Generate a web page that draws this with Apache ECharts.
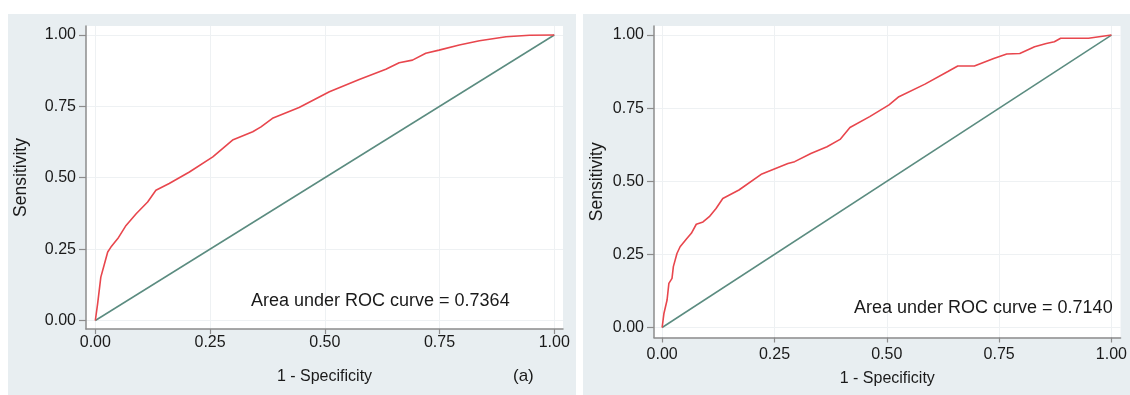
<!DOCTYPE html>
<html>
<head>
<meta charset="utf-8">
<script src="https://cdn.jsdelivr.net/npm/echarts@6/dist/echarts.min.js"></script>
<style>
html,body{margin:0;padding:0;background:#fff;}
#c{width:1130px;height:395px;}
</style>
</head>
<body>
<div id="c"></div>
<script>
var tickValues = [0, 0.25, 0.5, 0.75, 1];
var tickLabels = ['0.00', '0.25', '0.50', '0.75', '1.00'];
var xTitle = '1 - Specificity';
var yTitle = 'Sensitivity';
var aucLeft = 'Area under ROC curve = 0.7364';
var aucRight = 'Area under ROC curve = 0.7140';
var panelTag = '(a)';

var leftFpr = [0, 0.005, 0.012, 0.020, 0.027, 0.034, 0.049, 0.067, 0.089, 0.114, 0.132, 0.161, 0.205, 0.256, 0.299, 0.343, 0.361, 0.386, 0.444, 0.510, 0.575, 0.633, 0.662, 0.691, 0.720, 0.749, 0.793, 0.837, 0.895, 0.946, 1];
var leftTpr = [0, 0.058, 0.152, 0.199, 0.240, 0.257, 0.287, 0.333, 0.374, 0.415, 0.456, 0.480, 0.520, 0.573, 0.632, 0.661, 0.678, 0.708, 0.746, 0.801, 0.844, 0.880, 0.903, 0.912, 0.936, 0.947, 0.965, 0.980, 0.994, 0.999, 1];

var rightFpr = [0, 0.004, 0.011, 0.015, 0.022, 0.025, 0.033, 0.040, 0.055, 0.065, 0.076, 0.091, 0.105, 0.120, 0.135, 0.171, 0.222, 0.280, 0.295, 0.331, 0.367, 0.396, 0.418, 0.462, 0.505, 0.527, 0.585, 0.636, 0.658, 0.695, 0.738, 0.767, 0.796, 0.829, 0.855, 0.873, 0.887, 0.949, 1];
var rightTpr = [0, 0.048, 0.094, 0.151, 0.168, 0.208, 0.253, 0.276, 0.304, 0.322, 0.353, 0.361, 0.379, 0.407, 0.441, 0.470, 0.525, 0.561, 0.567, 0.595, 0.618, 0.643, 0.684, 0.721, 0.761, 0.789, 0.832, 0.875, 0.894, 0.894, 0.920, 0.935, 0.937, 0.960, 0.971, 0.977, 0.989, 0.989, 1];

var diagX = [0, 1];
var diagY = [0, 1];

function pairs(xs, ys) { return xs.map(function (x, i) { return [x, ys[i]]; }); }

var panelBg = '#e8eef1';
var axisGray = '#8c8c8c';
var gridGray = '#eef1f3';
var txt = '#1a1a1a';
var font = 'Liberation Sans, Arial, sans-serif';

function xAxisCfg(gi, min, max, labelMargin, nameGap) {
  return {
    type: 'value', gridIndex: gi, min: min, max: max,
    name: xTitle, nameLocation: 'middle', nameGap: nameGap,
    nameTextStyle: { color: txt, fontSize: 16, fontFamily: font },
    axisLine: { show: true, onZero: false, lineStyle: { color: axisGray, width: 1.5 } },
    axisTick: { show: true, length: 5, customValues: tickValues, lineStyle: { color: axisGray, width: 1.2 } },
    axisLabel: { customValues: tickValues, margin: labelMargin, color: txt, fontSize: 16, fontFamily: font,
      formatter: function (v) { var i = tickValues.indexOf(v); return i >= 0 ? tickLabels[i] : ''; } },
    splitLine: { show: true, lineStyle: { color: gridGray, width: 1 } }
  };
}
function yAxisCfg(gi, min, max, nameGap) {
  return {
    type: 'value', gridIndex: gi, min: min, max: max,
    name: yTitle, nameLocation: 'middle', nameGap: nameGap, nameRotate: 90,
    nameTextStyle: { color: txt, fontSize: 17.5, fontFamily: font },
    axisLine: { show: true, onZero: false, lineStyle: { color: axisGray, width: 1.5 } },
    axisTick: { show: true, length: 7, customValues: tickValues, lineStyle: { color: axisGray, width: 1.2 } },
    axisLabel: { customValues: tickValues, margin: 10, color: txt, fontSize: 16, fontFamily: font,
      formatter: function (v) { var i = tickValues.indexOf(v); return i >= 0 ? tickLabels[i] : ''; } },
    splitLine: { show: true, lineStyle: { color: gridGray, width: 1 } }
  };
}

var chart = echarts.init(document.getElementById('c'), null, { renderer: 'canvas' });
chart.setOption({
  backgroundColor: '#ffffff',
  animation: false,
  graphic: [
    { type: 'rect', z: -10, shape: { x: 8, y: 14, width: 568, height: 381 }, style: { fill: panelBg } },
    { type: 'rect', z: -10, shape: { x: 583, y: 14, width: 547, height: 381 }, style: { fill: panelBg } },
    { type: 'text', z: 100, left: 251, top: 292, style: { text: aucLeft, fill: txt, font: '18px ' + font } },
    { type: 'text', z: 100, left: 854, top: 299, style: { text: aucRight, fill: txt, font: '18px ' + font } },
    { type: 'text', z: 100, left: 513, top: 368, style: { text: panelTag, fill: txt, font: '17px ' + font } }
  ],
  grid: [
    { left: 86, top: 26, width: 477, height: 303, show: true, backgroundColor: '#ffffff', borderWidth: 0 },
    { left: 654, top: 26, width: 476, height: 311.5, show: true, backgroundColor: '#ffffff', borderWidth: 0 }
  ],
  xAxis: [
    xAxisCfg(0, -0.0203, 1.019, 6, 40),
    xAxisCfg(1, -0.0181, 1.0203, 9, 33)
  ],
  yAxis: [
    yAxisCfg(0, -0.0298, 1.0315, 56),
    yAxisCfg(1, -0.0342, 1.0308, 48)
  ],
  series: [
    { type: 'line', xAxisIndex: 0, yAxisIndex: 0, data: pairs(diagX, diagY), showSymbol: false,
      lineStyle: { color: '#5b8c80', width: 1.5 } },
    { type: 'line', xAxisIndex: 0, yAxisIndex: 0, data: pairs(leftFpr, leftTpr), showSymbol: false,
      lineStyle: { color: '#e8464d', width: 1.6 } },
    { type: 'line', xAxisIndex: 1, yAxisIndex: 1, data: pairs(diagX, diagY), showSymbol: false,
      lineStyle: { color: '#5b8c80', width: 1.5 } },
    { type: 'line', xAxisIndex: 1, yAxisIndex: 1, data: pairs(rightFpr, rightTpr), showSymbol: false,
      lineStyle: { color: '#e8464d', width: 1.6 } }
  ]
});
</script>
</body>
</html>
